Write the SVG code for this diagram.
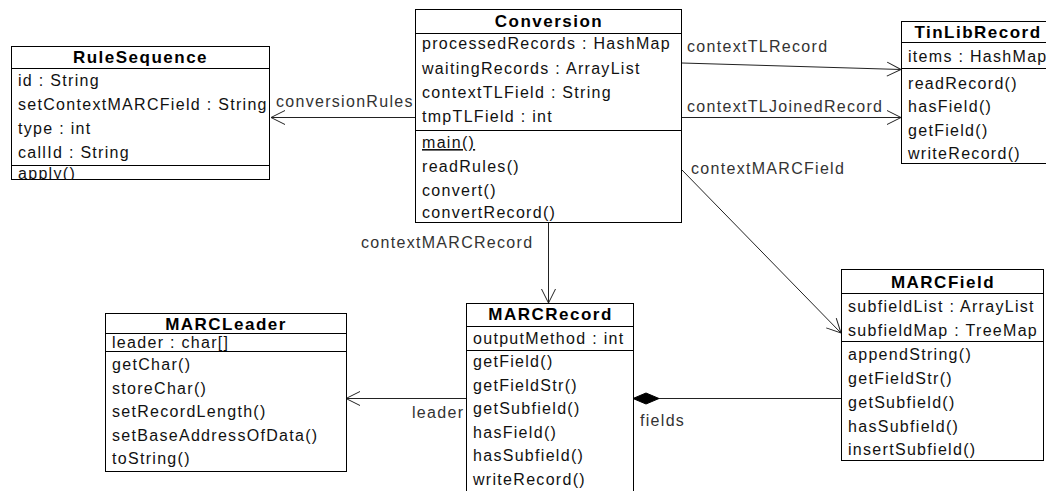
<svg xmlns="http://www.w3.org/2000/svg" width="1046" height="491" viewBox="0 0 1046 491">
  <style>
    .box { fill: #fff; stroke: #000; stroke-width: 1; }
    .sep { stroke: #000; stroke-width: 1; }
    .title { font-family: "Liberation Sans", Arial, sans-serif; font-size: 17px; font-weight: bold; letter-spacing: 1.5px; fill: #000; text-anchor: middle; }
    .t { font-family: "Liberation Sans", Arial, sans-serif; font-size: 16px; letter-spacing: 1.3px; fill: #111; }
    .lbl { font-family: "Liberation Sans", Arial, sans-serif; font-size: 16px; letter-spacing: 1.3px; fill: #333; }
    .edge { fill: none; stroke: #222; stroke-width: 1; }
    .static { text-decoration: underline; }
  </style>
  <defs>
    <marker id="open" markerUnits="userSpaceOnUse" viewBox="-16 -9 18 18" refX="0" refY="0" markerWidth="18" markerHeight="18" orient="auto">
      <path d="M-14,-7 L0,0 L-14,7" fill="none" stroke="#222" stroke-width="1"/>
    </marker>
    <!-- compartments cut off the last line of text at the class border -->
    <clipPath id="clipRule"><rect x="11" y="46" width="259" height="134"/></clipPath>
    <clipPath id="clipConv"><rect x="415" y="9" width="267" height="214"/></clipPath>
    <clipPath id="clipTin"><rect x="901" y="21" width="153" height="143"/></clipPath>
    <clipPath id="clipField"><rect x="841" y="269" width="203" height="192"/></clipPath>
    <clipPath id="clipLeader"><rect x="105" y="313" width="242" height="159"/></clipPath>
  </defs>

  <rect width="1046" height="491" fill="#fff"/>

  <!-- associations -->
  <g id="connectors">
    <line class="edge" x1="415" y1="117.5" x2="271" y2="117.5" marker-end="url(#open)"/>
    <text class="lbl" x="276" y="107">conversionRules</text>

    <line class="edge" x1="682" y1="63" x2="901" y2="69.5" marker-end="url(#open)"/>
    <text class="lbl" x="687" y="52">contextTLRecord</text>

    <line class="edge" x1="682" y1="117.5" x2="901" y2="117.5" marker-end="url(#open)"/>
    <text class="lbl" x="687" y="112">contextTLJoinedRecord</text>

    <line class="edge" x1="682" y1="170" x2="841" y2="333" marker-end="url(#open)"/>
    <text class="lbl" x="691" y="173.5">contextMARCField</text>

    <line class="edge" x1="548.5" y1="223" x2="548.5" y2="303" marker-end="url(#open)"/>
    <text class="lbl" x="361" y="248">contextMARCRecord</text>

    <line class="edge" x1="466" y1="398.5" x2="346" y2="398.5" marker-end="url(#open)"/>
    <text class="lbl" x="412" y="418">leader</text>

    <line class="edge" x1="841" y1="398.5" x2="659" y2="398.5"/>
    <polygon points="633,398.5 646,393 659,398.5 646,404" fill="#000" stroke="#000" stroke-width="1"/>
    <text class="lbl" x="640" y="426">fields</text>
  </g>

  <!-- RuleSequence -->
  <g id="RuleSequence">
    <rect class="box" x="11.5" y="46.5" width="258" height="133"/>
    <line class="sep" x1="11.5" y1="68.5" x2="269.5" y2="68.5"/>
    <line class="sep" x1="11.5" y1="165.5" x2="269.5" y2="165.5"/>
    <text class="title" x="140.5" y="63">RuleSequence</text>
    <g clip-path="url(#clipRule)">
      <text class="t" x="18" y="85.5">id : String</text>
      <text class="t" x="18" y="109.5">setContextMARCField : String</text>
      <text class="t" x="18" y="133.5">type : int</text>
      <text class="t" x="18" y="157.5">callId : String</text>
      <text class="t" x="18" y="178.5">apply()</text>
    </g>
  </g>

  <!-- Conversion -->
  <g id="Conversion">
    <rect class="box" x="415.5" y="9.5" width="266" height="213"/>
    <line class="sep" x1="415.5" y1="33.5" x2="681.5" y2="33.5"/>
    <line class="sep" x1="415.5" y1="130.5" x2="681.5" y2="130.5"/>
    <text class="title" x="549" y="27">Conversion</text>
    <g clip-path="url(#clipConv)">
      <text class="t" x="422" y="49">processedRecords : HashMap</text>
      <text class="t" x="422" y="73.5">waitingRecords : ArrayList</text>
      <text class="t" x="422" y="98">contextTLField : String</text>
      <text class="t" x="422" y="122">tmpTLField : int</text>
      <text class="t static" x="422" y="148">main()</text>
      <text class="t" x="422" y="172">readRules()</text>
      <text class="t" x="422" y="195.5">convert()</text>
      <text class="t" x="422" y="218">convertRecord()</text>
    </g>
  </g>

  <!-- TinLibRecord -->
  <g id="TinLibRecord">
    <rect class="box" x="901.5" y="21.5" width="152" height="142"/>
    <line class="sep" x1="901.5" y1="42.5" x2="1053.5" y2="42.5"/>
    <line class="sep" x1="901.5" y1="68.5" x2="1053.5" y2="68.5"/>
    <text class="title" x="978" y="37.5">TinLibRecord</text>
    <g clip-path="url(#clipTin)">
      <text class="t" x="908" y="62">items : HashMap</text>
      <text class="t" x="908" y="88.5">readRecord()</text>
      <text class="t" x="908" y="112">hasField()</text>
      <text class="t" x="908" y="135.5">getField()</text>
      <text class="t" x="908" y="159">writeRecord()</text>
    </g>
  </g>

  <!-- MARCField -->
  <g id="MARCField">
    <rect class="box" x="841.5" y="269.5" width="202" height="191"/>
    <line class="sep" x1="841.5" y1="293.5" x2="1043.5" y2="293.5"/>
    <line class="sep" x1="841.5" y1="341.5" x2="1043.5" y2="341.5"/>
    <text class="title" x="943" y="287.5">MARCField</text>
    <g clip-path="url(#clipField)">
      <text class="t" x="848" y="312">subfieldList : ArrayList</text>
      <text class="t" x="848" y="336">subfieldMap : TreeMap</text>
      <text class="t" x="848" y="360">appendString()</text>
      <text class="t" x="848" y="383.5">getFieldStr()</text>
      <text class="t" x="848" y="407.5">getSubfield()</text>
      <text class="t" x="848" y="431.5">hasSubfield()</text>
      <text class="t" x="848" y="455">insertSubfield()</text>
    </g>
  </g>

  <!-- MARCRecord -->
  <g id="MARCRecord">
    <rect class="box" x="466.5" y="303.5" width="167" height="200"/>
    <line class="sep" x1="466.5" y1="326.5" x2="633.5" y2="326.5"/>
    <line class="sep" x1="466.5" y1="350.5" x2="633.5" y2="350.5"/>
    <text class="title" x="550.5" y="319.5">MARCRecord</text>
    <text class="t" x="473" y="343.5">outputMethod : int</text>
    <text class="t" x="473" y="367">getField()</text>
    <text class="t" x="473" y="390.5">getFieldStr()</text>
    <text class="t" x="473" y="414">getSubfield()</text>
    <text class="t" x="473" y="437.5">hasField()</text>
    <text class="t" x="473" y="461">hasSubfield()</text>
    <text class="t" x="473" y="484.5">writeRecord()</text>
  </g>

  <!-- MARCLeader -->
  <g id="MARCLeader">
    <rect class="box" x="105.5" y="313.5" width="241" height="158"/>
    <line class="sep" x1="105.5" y1="333.5" x2="346.5" y2="333.5"/>
    <line class="sep" x1="105.5" y1="351.5" x2="346.5" y2="351.5"/>
    <text class="title" x="226" y="329.5">MARCLeader</text>
    <g clip-path="url(#clipLeader)">
      <text class="t" x="112" y="347.5">leader : char[]</text>
      <text class="t" x="112" y="370">getChar()</text>
      <text class="t" x="112" y="393.5">storeChar()</text>
      <text class="t" x="112" y="417">setRecordLength()</text>
      <text class="t" x="112" y="440.5">setBaseAddressOfData()</text>
      <text class="t" x="112" y="464">toString()</text>
    </g>
  </g>
</svg>
